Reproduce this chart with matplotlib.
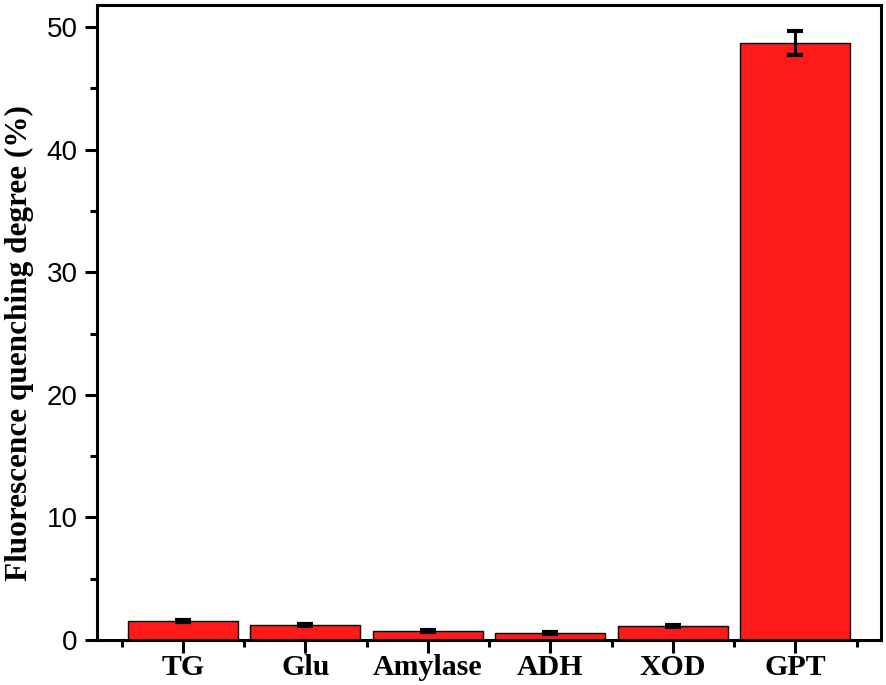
import numpy as np
import matplotlib
matplotlib.use("Agg")
from matplotlib import pyplot as plt
from matplotlib.ticker import MultipleLocator, FixedLocator

# values
enzymes = ["TG", "Glu", "Amylase", "ADH", "XOD", "GPT"]
quenching = [1.55, 1.23, 0.76, 0.57, 1.12, 48.7]
quenching_err = [0.12, 0.10, 0.08, 0.08, 0.10, 1.0]

fig = plt.figure(figsize=(8.86, 6.85), dpi=100)
ax = fig.add_axes([0.1095, 0.0657, 0.885, 0.927])

x = np.arange(1, len(enzymes) + 1)
ax.bar(x, quenching, width=0.9, color="#ff1a1a", edgecolor="black", linewidth=1.0, zorder=2)
ax.errorbar(x, quenching, yerr=quenching_err, fmt="none", ecolor="black",
            elinewidth=2.2, capsize=5.5, capthick=3.0, zorder=3)

ax.set_xlim(0.3, 6.7)
ax.set_ylim(0, 51.8)

ax.set_xticks(x)
ax.set_xticklabels(enzymes, family="Liberation Serif", fontweight="bold", fontsize=21.5)
ax.xaxis.set_minor_locator(FixedLocator(np.arange(0.5, 7.0, 1.0)))
ax.yaxis.set_major_locator(MultipleLocator(10))
ax.yaxis.set_minor_locator(MultipleLocator(5))
for lab in ax.get_yticklabels():
    lab.set_family("Liberation Sans")
    lab.set_fontsize(20)

ax.tick_params(which="major", direction="out", length=9, width=2.2, pad=1)
ax.tick_params(which="minor", direction="out", length=5, width=2.2)
ax.tick_params(axis="y", which="major", pad=5)
ax.tick_params(top=False, right=False)

for sp in ax.spines.values():
    sp.set_linewidth(2.2)

ax.set_ylabel("Fluorescence quenching degree (%)", family="Liberation Serif",
              fontweight="bold", fontsize=22.5)
ax.yaxis.set_label_coords(-0.081, 0.468)

fig.savefig("out.png", dpi=100)
